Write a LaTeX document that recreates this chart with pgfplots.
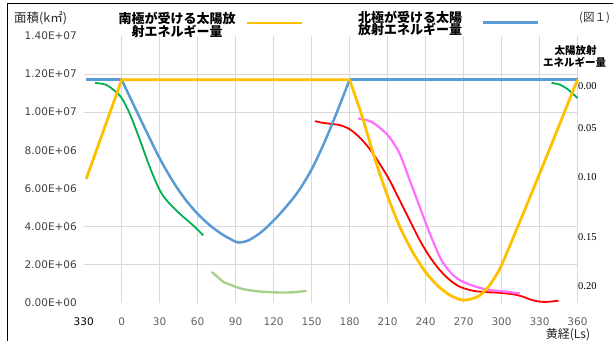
\documentclass[border=0pt]{standalone}
\usepackage{pgfplots}
\pgfplotsset{compat=1.18}
\usepackage{fontspec}
\setmainfont{DejaVu Sans}
\newfontfamily\cjk{Noto Sans CJK JP}
\newfontfamily\serifnum{Liberation Serif}
\newfontfamily\numfont{DejaVu Sans}
\definecolor{cyel}{HTML}{FFC000}
\definecolor{cblue}{HTML}{5B9BD5}
\definecolor{cgreen}{HTML}{00B050}
\definecolor{clgreen}{HTML}{A9D18E}
\definecolor{cred}{HTML}{FF0000}
\definecolor{cpink}{HTML}{FF6EFF}
\definecolor{cgrid}{HTML}{D9D9D9}
\begin{document}
\begin{tikzpicture}[x=1bp,y=1bp]
\useasboundingbox (0,0) rectangle (613,341);
\draw[black, line width=1bp] (7,0) -- (7,337) -- (613,337);
\begin{axis}[
  at={(83.7bp,38bp)}, anchor=south west, scale only axis,
  width=493.8bp, height=267.2bp,
  xmin=-30, xmax=360, ymin=0, ymax=14,
  clip=false,
  axis line style={draw=none}, tick style={draw=none},
  xtick={0,30,...,360},
  xticklabels={0,30,60,90,120,150,180,210,240,270,300,330,360},
  xmajorgrids, major grid style={draw=cgrid, line width=0.8bp},
  extra x ticks={-30}, extra x tick labels={330},
  extra x tick style={grid=none, xticklabel style={text=black}},
  ytick={0,2,...,14},
  yticklabels={0.00E+00,2.00E+06,4.00E+06,6.00E+06,8.00E+06,1.00E+07,1.20E+07,1.40E+07},
  extra y ticks={2,4,10,12}, extra y tick labels={},
  extra y tick style={grid=major},
  xticklabel style={font=\numfont\fontsize{10.5bp}{12bp}\selectfont, text=black!62, inner sep=0pt, yshift=-15bp},
  yticklabel style={font=\numfont\fontsize{10.5bp}{12bp}\selectfont, text=black!75, inner sep=0pt, xshift=-6.7bp},
  scaled y ticks=false,
]
% red
\addplot[cred, line width=1.8bp, smooth] coordinates {
(152.6,9.53) (158,9.45) (164.4,9.39) (172.3,9.32) (180.2,9.1) (188.1,8.66) (196,8.06) (203.9,7.28) (211.8,6.41) (219.7,5.36) (227.6,4.32) (235.5,3.28) (243.4,2.41) (251.3,1.72) (259.2,1.2) (267.1,0.85) (277.6,0.64) (288.2,0.57) (297,0.54) (303.9,0.5) (310,0.45) (317,0.33) (322,0.2) (327.6,0.1) (333,0.06) (338.1,0.07) (345,0.12)};
% pink
\addplot[cpink, line width=2.2bp, smooth] coordinates {
(186.8,9.67) (196,9.53) (203.9,9.18) (211.8,8.66) (219.7,7.8) (227.6,6.41) (235.5,5.02) (243.4,3.63) (251.3,2.41) (256,1.9) (261.8,1.46) (267,1.2) (272.4,1.03) (280,0.85) (288.2,0.71) (296,0.64) (303.9,0.59) (314.4,0.5)};
% blue
\addplot[cblue, line width=2.5bp] coordinates {(-28,11.7) (0,11.7)};
\addplot[cblue, line width=2.5bp, smooth] coordinates {
(0,11.7) (10,10.3) (20,8.92) (30,7.58) (40,6.42) (50,5.45) (60,4.67) (70,4.05) (80,3.57) (86,3.35) (92,3.17) (100,3.28) (110,3.7) (120,4.32) (130,5.05) (140,5.9) (150,7.0) (160,8.4) (170,10.0) (180,11.7)};
\addplot[cblue, line width=2.5bp] coordinates {(180,11.7) (360,11.7)};
% dark green
\addplot[cgreen, line width=1.8bp, smooth] coordinates {
(-21,11.53) (-13,11.45) (-6.6,11.18) (0,10.74) (6.6,9.88) (14.4,8.54) (22.3,7.1) (30.2,5.89) (36.8,5.28) (46,4.67) (56.5,4.06) (64.4,3.54)};
\addplot[cgreen, line width=1.8bp, smooth] coordinates {
(339.5,11.53) (346,11.44) (352.6,11.18) (360,10.74)};
% light green
\addplot[clgreen, line width=2.4bp, smooth] coordinates {
(71,1.63) (76,1.35) (80.2,1.11) (86,0.95) (93.4,0.77) (100,0.68) (109.2,0.6) (117,0.57) (124.9,0.55) (135,0.56) (146,0.64)};
% yellow
\addplot[cyel, line width=2.8bp] coordinates {(-28,6.5) (0,11.7) (180,11.7)};
\addplot[cyel, line width=2.8bp, smooth] coordinates {
(180,11.7) (190,9.75) (200,7.55) (210,5.6) (220,3.95) (230,2.65) (240,1.62) (250,0.88) (260,0.38) (270,0.15) (280,0.3) (285,0.52) (290,0.88) (295,1.38) (300,1.98) (310,3.55) (320,5.15) (330,6.77) (340,8.4) (350,10.05) (360,11.7)};
\end{axis}
% axis titles
\node[anchor=west, inner sep=0pt, font=\cjk\fontsize{12.5bp}{14bp}\selectfont, text=black!85] at (14,323) {面積(k㎡)};
\node[inner sep=0pt, font=\cjk\fontsize{12bp}{14bp}\selectfont, text=black!85] at (568,6.5) {黄経(Ls)};
% legend
\node[inner sep=0pt, font=\cjk\bfseries\fontsize{13bp}{14bp}\selectfont] at (177,323) {南極が受ける太陽放};
\node[inner sep=0pt, font=\cjk\bfseries\fontsize{13bp}{14bp}\selectfont] at (177,309.5) {射エネルギー量};
\draw[cyel, line width=2.8bp] (247,318) -- (302,318);
\node[inner sep=0pt, font=\cjk\bfseries\fontsize{13bp}{14bp}\selectfont] at (410,323.5) {北極が受ける太陽};
\node[inner sep=0pt, font=\cjk\bfseries\fontsize{13bp}{14bp}\selectfont] at (410,311.5) {放射エネルギー量};
\draw[cblue, line width=2.6bp] (483,318.3) -- (538,318.3);
\node[inner sep=0pt, font=\cjk\fontsize{11.5bp}{13bp}\selectfont, text=black!80] at (594.5,323) {(図１)};
% right scale
\node[inner sep=0pt, font=\cjk\bfseries\fontsize{10.5bp}{12bp}\selectfont] at (575.5,290.3) {太陽放射};
\node[inner sep=0pt, font=\cjk\bfseries\fontsize{10.5bp}{12bp}\selectfont] at (574.5,278.3) {エネルギー量};
\node[anchor=west, inner sep=0pt, font=\serifnum\fontsize{10.5bp}{12bp}\selectfont] at (578,255) {0.00};
\node[anchor=west, inner sep=0pt, font=\serifnum\fontsize{10.5bp}{12bp}\selectfont] at (578,213) {0.05};
\node[anchor=west, inner sep=0pt, font=\serifnum\fontsize{10.5bp}{12bp}\selectfont] at (578,164) {0.10};
\node[anchor=west, inner sep=0pt, font=\serifnum\fontsize{10.5bp}{12bp}\selectfont] at (578,104) {0.15};
\node[anchor=west, inner sep=0pt, font=\serifnum\fontsize{10.5bp}{12bp}\selectfont] at (578,55) {0.20};
\end{tikzpicture}
\end{document}
